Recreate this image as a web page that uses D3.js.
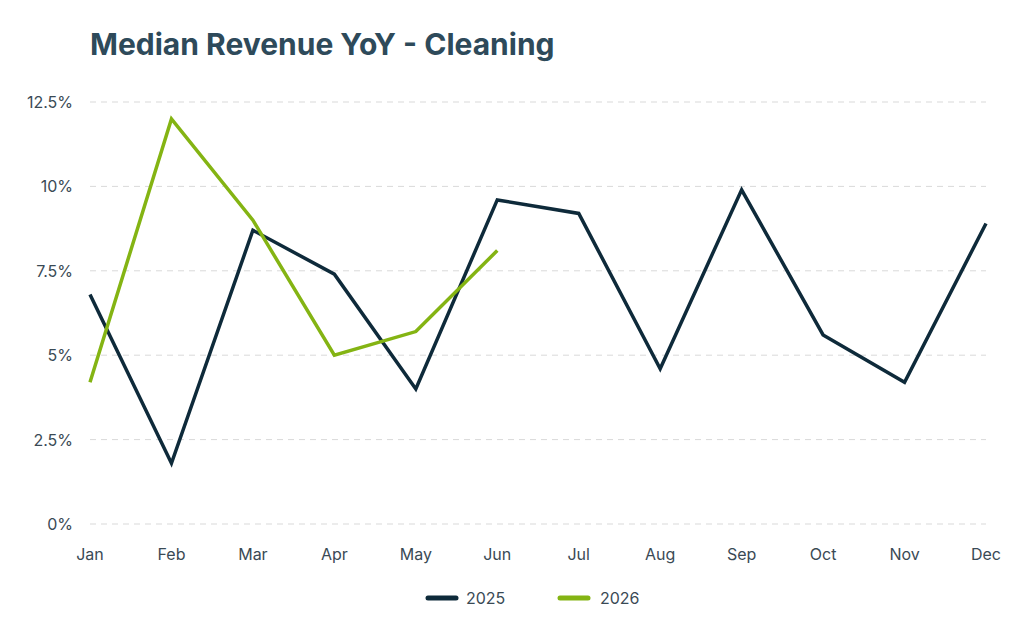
<!DOCTYPE html>
<html><head><meta charset="utf-8">
<script src="https://cdn.jsdelivr.net/npm/d3@7"></script>
<style>body{margin:0;background:#fff;font-family:Inter,"Noto Sans",sans-serif}</style>
</head><body><svg id="c" width="1024" height="640"></svg>
<script>
const months=["Jan","Feb","Mar","Apr","May","Jun","Jul","Aug","Sep","Oct","Nov","Dec"];
const s2025=[6.8,1.8,8.7,7.4,4.0,9.6,9.2,4.6,9.9,5.6,4.2,8.9];
const s2026=[4.2,12.0,9.0,5.0,5.7,8.1];
const yTicks=[0,2.5,5,7.5,10,12.5];
const tickLabels=["0%","2.5%","5%","7.5%","10%","12.5%"];
const seriesNames=["2025","2026"];
const colors=["#0e2a3a","#84b413"];

const svg=d3.select("#c");
const x=d3.scalePoint().domain(months).range([90,986]);
const y=d3.scaleLinear().domain([0,12.5]).range([524,102]);
svg.append("text").attr("x",90).attr("y",55).attr("font-size",30).attr("font-weight",700)
 .attr("fill","#2e4a5a").text("Median Revenue YoY - Cleaning");
const g=svg.append("g");
yTicks.forEach((t,i)=>{
 g.append("line").attr("x1",90).attr("x2",986).attr("y1",y(t)).attr("y2",y(t))
  .attr("stroke","#d9d9d9").attr("stroke-dasharray","6,5");
 g.append("text").attr("x",73).attr("y",y(t)+6).attr("text-anchor","end").attr("font-size",16)
  .attr("fill","#3a4a55").text(tickLabels[i]);
});
months.forEach(m=>g.append("text").attr("x",x(m)).attr("y",560).attr("text-anchor","middle")
 .attr("font-size",16).attr("fill","#3a4a55").text(m));
const line=d3.line().x((d,i)=>x(months[i])).y(d=>y(d));
[s2025,s2026].forEach((s,k)=>svg.append("path").attr("d",line(s)).attr("fill","none")
 .attr("stroke",colors[k]).attr("stroke-width",3.5).attr("stroke-linejoin","miter"));
[[428,466],[560,600]].forEach(([lx,tx],k)=>{
 svg.append("line").attr("x1",lx).attr("x2",lx+28).attr("y1",598).attr("y2",598)
  .attr("stroke",colors[k]).attr("stroke-width",5).attr("stroke-linecap","round");
 svg.append("text").attr("x",tx).attr("y",604).attr("font-size",16).attr("fill","#3a4a55").text(seriesNames[k]);
});
</script></body></html>
